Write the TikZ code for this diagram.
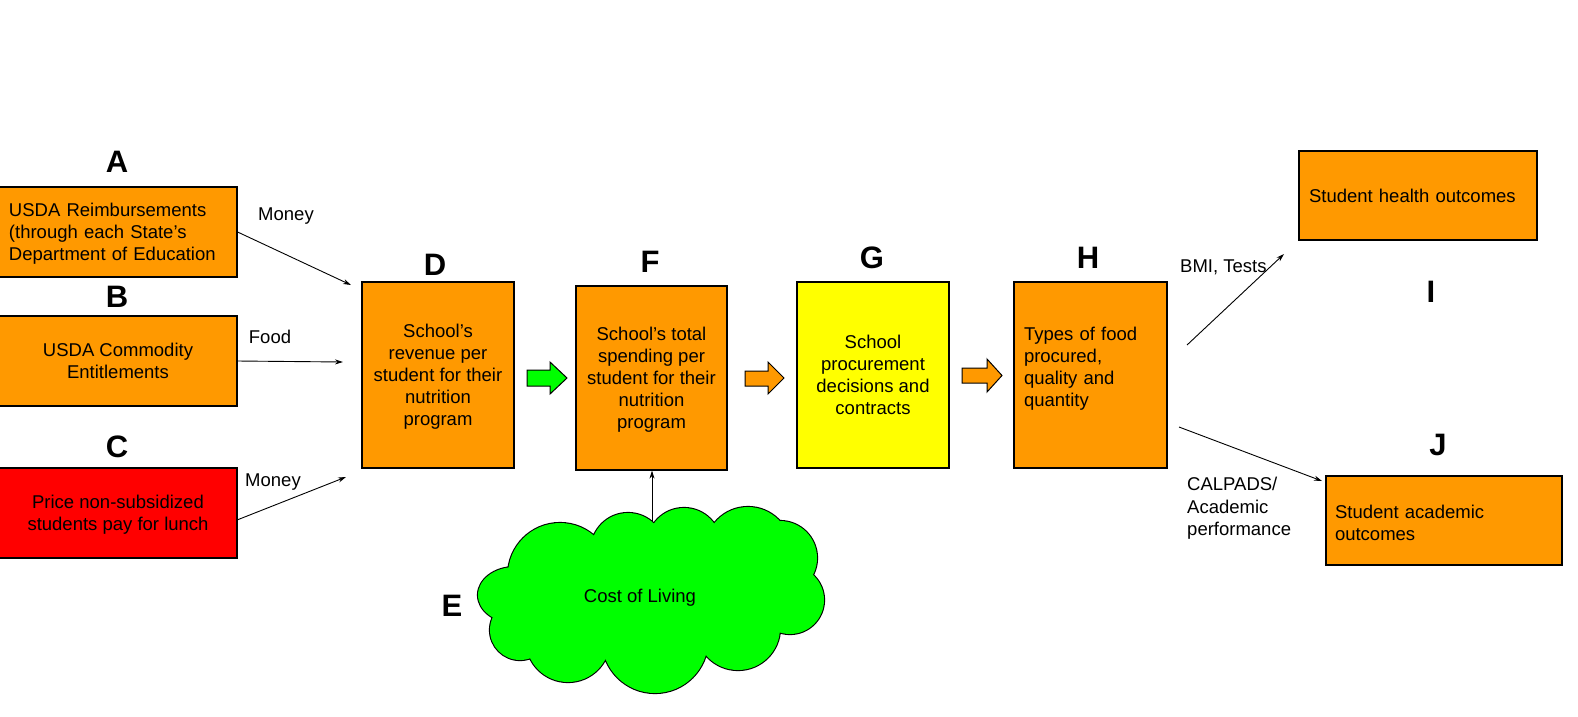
\documentclass[tikz,border=0pt]{standalone}
\usepackage{fontspec}
\setmainfont{Liberation Sans}
\usetikzlibrary{arrows.meta}

\definecolor{boxorange}{HTML}{FF9900}
\definecolor{boxred}{HTML}{FF0000}
\definecolor{boxyellow}{HTML}{FFFF00}
\definecolor{cloudgreen}{HTML}{00FF00}

\begin{document}
\begin{tikzpicture}[x=1pt,y=-1pt,
  box/.style={draw=black, line width=1.2pt, inner sep=0pt,
    font=\fontsize{18.5}{22}\selectfont},
  orangebox/.style={box, fill=boxorange},
  centred/.style={align=center, text depth=0pt},
  letter/.style={font=\fontsize{31}{31}\selectfont\bfseries, inner sep=0pt},
  tag/.style={font=\fontsize{18.5}{22.5}\selectfont, inner sep=0pt},
  conn/.style={line width=0.9pt, -{Stealth[length=8pt,width=5pt]}},
  blockarrow/.style={draw=black, line width=1pt, line join=miter}
]
\useasboundingbox (0,0) rectangle (1578,716);

% source boxes
\node[orangebox, minimum width=238, minimum height=90, text width=218, align=left, text depth=44pt]
  (A) at (118,232) {USDA Reimbursements\\(through each State’s\\Department of Education};
\node[orangebox, minimum width=238, minimum height=90, centred]
  (B) at (118,361) {USDA Commodity\\Entitlements};
\node[box, fill=boxred, minimum width=238, minimum height=90, centred]
  (C) at (118,513) {Price non-subsidized\\students pay for lunch};

% main chain
\node[orangebox, minimum width=152, minimum height=186, centred]
  (D) at (438,375) {School’s\\revenue per\\student for their\\nutrition\\program};
\node[orangebox, minimum width=151, minimum height=184, centred]
  (F) at (651.5,378) {School’s total\\spending per\\student for their\\nutrition\\program};
\node[box, fill=boxyellow, minimum width=152, minimum height=186, centred]
  (G) at (873,375) {School\\procurement\\decisions and\\contracts};
\node[orangebox, minimum width=153, minimum height=186, text width=133, align=left, text depth=82pt]
  (H) at (1090.5,375) {Types of food\\procured,\\quality and\\quantity\\\mbox{}};

% outcome boxes
\node[orangebox, minimum width=238, minimum height=89, text width=218, align=left]
  (I) at (1418,195.5) {Student health outcomes};
\node[orangebox, minimum width=236, minimum height=89, text width=218, align=left, text depth=18pt]
  (J) at (1444,520.5) {Student academic\\outcomes};

% cost of living cloud: union of puffs, outlined by drawing thick then filling
\def\puffs{%
  (515,595) ellipse [x radius=37, y radius=28]
  (520,630) circle [radius=30]
  (568,640) circle [radius=42]
  (655,640) circle [radius=53]
  (738,628) circle [radius=42]
  (790,600) circle [radius=34]
  (780,558) circle [radius=37]
  (748,550) circle [radius=43]
  (684,545) circle [radius=37]
  (628,550) circle [radius=37]
  (560,575) circle [radius=52]}
\draw[black, line width=2.2pt] \puffs;
\fill[cloudgreen] \puffs (651,600) ellipse [x radius=140, y radius=60];
\node[tag] (E) at (640,598) {Cost of Living};
\coordinate (eTop) at (652,521);

% letters
\node[letter] (labA) at (117,162) {A};
\node[letter] (labB) at (117,297) {B};
\node[letter] (labC) at (117,447) {C};
\node[letter] (labD) at (435,265) {D};
\node[letter] (labE) at (452,606) {E};
\node[letter] (labF) at (650,262) {F};
\node[letter] (labG) at (872,258) {G};
\node[letter] (labH) at (1088,258) {H};
\node[letter] (labI) at (1431,292) {I};
\node[letter] (labJ) at (1438,445) {J};

% free ends of the thin connectors
\coordinate (aEnd) at (351,285);
\coordinate (bEnd) at (343,362);
\coordinate (cStart) at (237,520);
\coordinate (cEnd) at (346,477);
\coordinate (iStart) at (1187,345);
\coordinate (iEnd) at (1284,254);
\coordinate (jStart) at (1179,427);
\coordinate (jEnd) at (1322,481);

\draw[conn] (A.east) -- (aEnd);
\draw[conn] (B.east) -- (bEnd);
\draw[conn] (cStart) -- (cEnd);
\draw[conn] (eTop) -- (eTop |- F.south);
\draw[conn] (iStart) -- (iEnd);
\draw[conn] (jStart) -- (jEnd);

% connector labels
\node[tag] (tMoneyA) at (286,216) {Money};
\node[tag] (tFood) at (270,337) {Food};
\node[tag] (tMoneyC) at (273,482) {Money};
\node[tag, anchor=west] (tBMI) at (1180,267) {BMI, Tests};
\node[tag, anchor=north west, align=left] (tCal) at (1187,477) {CALPADS/\\Academic\\performance};

% block arrows between the main steps
\draw[blockarrow, fill=cloudgreen]
  (527,370) -- (550,370) -- (550,362) -- (567,378) -- (550,394) -- (550,386) -- (527,386) -- cycle;
\draw[blockarrow, fill=boxorange]
  (745,371) -- (768,371) -- (768,362) -- (784,378) -- (768,394) -- (768,386) -- (745,386) -- cycle;
\draw[blockarrow, fill=boxorange]
  (962,368) -- (987,368) -- (987,359) -- (1002,375.5) -- (987,392) -- (987,383) -- (962,383) -- cycle;
\end{tikzpicture}
\end{document}
